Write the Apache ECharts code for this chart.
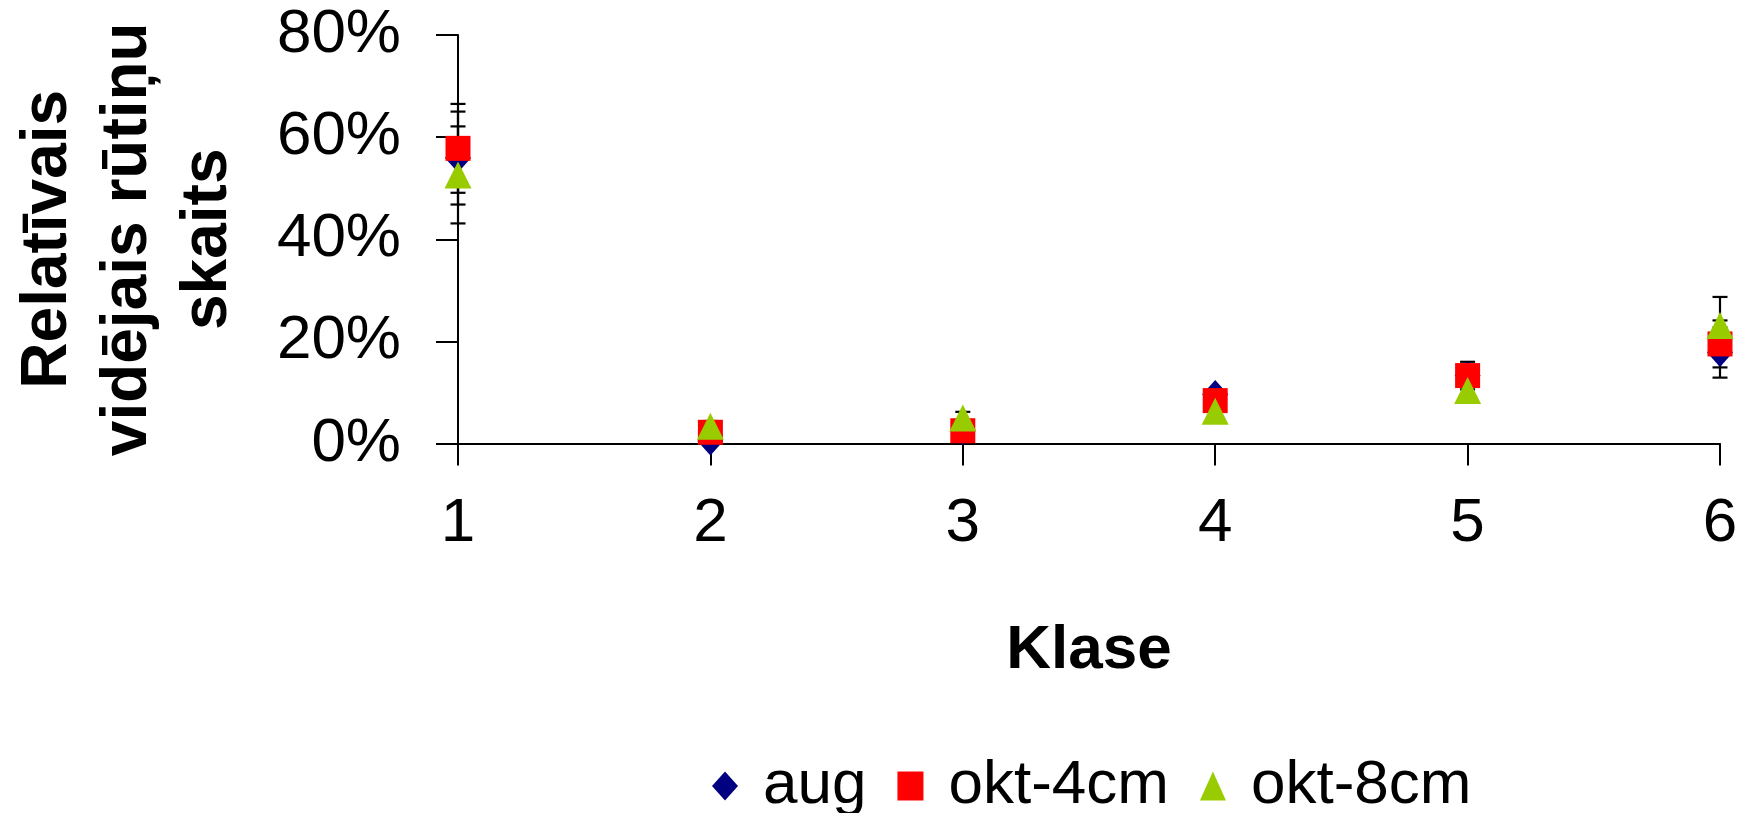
<!DOCTYPE html>
<html><head><meta charset="utf-8">
<script src="https://cdn.jsdelivr.net/npm/echarts@6/dist/echarts.min.js"></script>
<style>html,body{margin:0;padding:0;background:#fff}#c{width:1752px;height:813px}</style>
</head><body><div id="c"></div>
<script>
const categories = ['1', '2', '3', '4', '5', '6'];
const aug  = [55.9, 0.5, 2.5, 9.6, 13.3, 17.8];
const okt4 = [57.8, 2.2, 2.5, 8.4, 13.3, 19.5];
const okt8 = [52.6, 3.4, 5.0, 6.3, 10.4, 23.1];
const augErr  = [9.1, 0.5, 0.8, 1.0, 2.7, 4.9];
const okt4Err = [8.7, 0.8, 0.8, 1.2, 1.5, 4.6];
const okt8Err = [9.5, 1.0, 1.2, 1.0, 1.5, 5.6];
const yTicks = [0, 20, 40, 60, 80];

const FONT = 'Liberation Sans, Arial, sans-serif';
function errData(vals, errs) {
  return vals.map((v, i) => [i, v - errs[i], v + errs[i]]);
}
function errSeries(vals, errs) {
  return {
    type: 'custom', z: 1, silent: true,
    data: errData(vals, errs),
    renderItem: function (params, api) {
      const x = api.value(0);
      const lo = api.coord([x, api.value(1)]);
      const hi = api.coord([x, api.value(2)]);
      const w = 7.5;
      const st = { stroke: '#000', lineWidth: 2.2 };
      return {
        type: 'group', children: [
          { type: 'line', shape: { x1: lo[0], y1: lo[1], x2: hi[0], y2: hi[1] }, style: st },
          { type: 'line', shape: { x1: lo[0] - w, y1: lo[1], x2: lo[0] + w, y2: lo[1] }, style: st },
          { type: 'line', shape: { x1: hi[0] - w, y1: hi[1], x2: hi[0] + w, y2: hi[1] }, style: st }
        ]
      };
    }
  };
}

const chart = echarts.init(document.getElementById('c'));
chart.setOption({
  backgroundColor: '#fff',
  animation: false,
  textStyle: { fontFamily: FONT },
  grid: { left: 450, right: 32, top: 35, bottom: 369.5, containLabel: false },
  xAxis: {
    type: 'category', data: categories, boundaryGap: false,
    name: 'Klase', nameLocation: 'middle', nameGap: 176,
    nameTextStyle: { fontSize: 62, fontWeight: 'bold', color: '#000', fontFamily: FONT },
    axisLine: { lineStyle: { color: '#000', width: 2 } },
    axisTick: { show: true, length: 22, lineStyle: { color: '#000', width: 2 } },
    axisLabel: { fontSize: 62, color: '#000', margin: 49, fontFamily: FONT },
    splitLine: { show: false }
  },
  yAxis: {
    type: 'value', min: yTicks[0], max: yTicks[yTicks.length - 1], interval: 20,
    name: 'Relatīvais\nvidējais rūtiņu\nskaits', nameLocation: 'middle', nameRotate: 90, nameGap: 210,
    nameTextStyle: { fontSize: 64, fontWeight: 'bold', color: '#000', lineHeight: 80, fontFamily: FONT },
    axisLine: { show: true, lineStyle: { color: '#000', width: 2 } },
    axisTick: { show: true, length: 22, lineStyle: { color: '#000', width: 2 } },
    axisLabel: { fontSize: 62, color: '#000', margin: 57, formatter: '{value}%', fontFamily: FONT },
    splitLine: { show: false }
  },
  legend: {
    left: 707, top: 750, itemWidth: 26, itemHeight: 29, itemGap: 31,
    textStyle: { fontSize: 62, color: '#000', fontFamily: FONT, padding: [0, 0, 0, 20] },
    data: [
      { name: 'aug', icon: 'diamond', itemStyle: { color: '#000080' } },
      { name: 'okt-4cm', icon: 'rect', itemStyle: { color: '#FF0000' } },
      { name: 'okt-8cm', icon: 'triangle', itemStyle: { color: '#99CC00' } }
    ]
  },
  series: [
    errSeries(aug, augErr),
    errSeries(okt4, okt4Err),
    errSeries(okt8, okt8Err),
    { name: 'aug', type: 'scatter', z: 3, symbol: 'diamond', symbolSize: [26, 29], data: aug,
      itemStyle: { color: '#000080', opacity: 1 } },
    { name: 'okt-4cm', type: 'scatter', z: 4, symbol: 'rect', symbolSize: [25, 25], data: okt4,
      itemStyle: { color: '#FF0000', opacity: 1 } },
    { name: 'okt-8cm', type: 'scatter', z: 5, symbol: 'triangle', symbolSize: [27, 27], data: okt8,
      itemStyle: { color: '#99CC00', opacity: 1 } }
  ]
});
</script></body></html>
